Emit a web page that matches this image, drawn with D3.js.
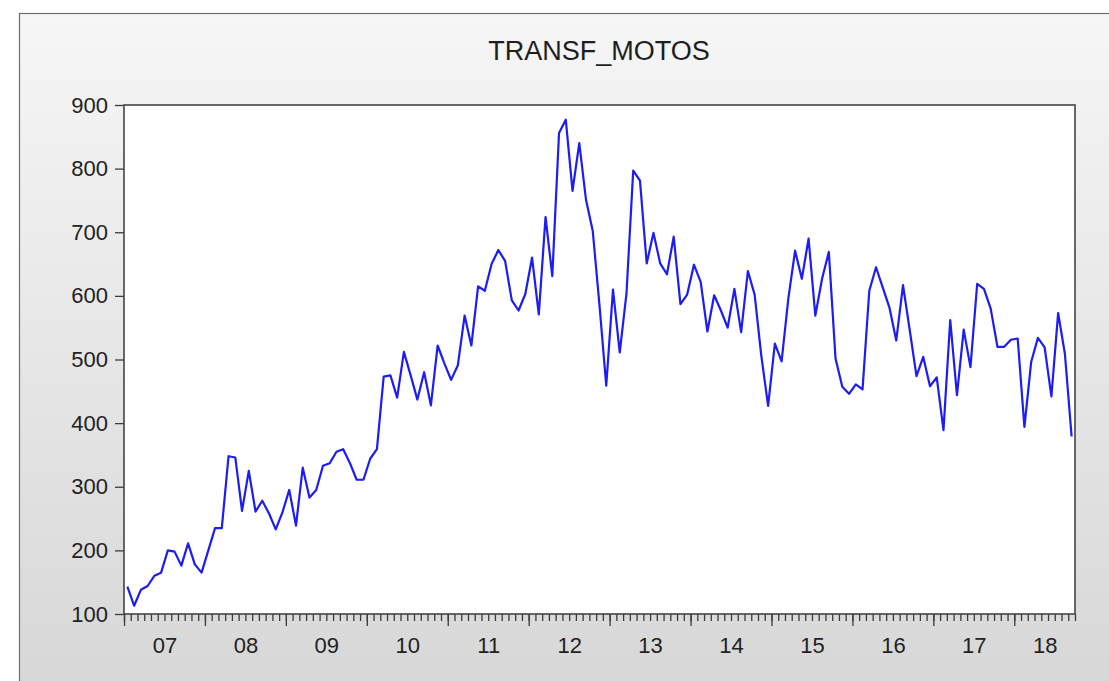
<!DOCTYPE html>
<html>
<head>
<meta charset="utf-8">
<script src="https://cdn.jsdelivr.net/npm/d3@7"></script>
<style>
  html, body { margin: 0; padding: 0; background: #ffffff; }
  svg { display: block; }
  text { font-family: "Liberation Sans", Arial, sans-serif; }
</style>
</head>
<body>
<svg id="chart" width="1109" height="681"></svg>
<script>
// Monthly series, January 2007 to September 2018
const seriesName = "TRANSF_MOTOS";
const yearLabels = ["07", "08", "09", "10", "11", "12", "13", "14", "15", "16", "17", "18"];
const v2007 = [143, 113, 138, 144, 160, 165, 200, 198, 176, 211, 178, 165];
const v2008 = [200, 235, 235, 348, 346, 262, 325, 261, 278, 258, 233, 260];
const v2009 = [295, 239, 330, 283, 295, 333, 337, 355, 359, 337, 311, 311];
const v2010 = [344, 359, 473, 475, 440, 512, 475, 437, 480, 428, 522, 494];
const v2011 = [468, 491, 569, 522, 615, 608, 650, 672, 655, 593, 577, 603];
const v2012 = [660, 571, 724, 631, 856, 877, 765, 840, 751, 702, 585, 459];
const v2013 = [610, 511, 604, 797, 781, 651, 699, 651, 634, 693, 587, 602];
const v2014 = [649, 622, 544, 601, 577, 550, 611, 543, 639, 602, 505, 427];
const v2015 = [525, 497, 596, 671, 627, 690, 569, 627, 669, 501, 457, 446];
const v2016 = [461, 453, 608, 645, 613, 581, 530, 617, 546, 474, 504, 458];
const v2017 = [472, 389, 562, 444, 547, 488, 619, 611, 580, 520, 520, 531];
const v2018 = [533, 394, 496, 534, 519, 442, 573, 509, 379];
const yTicks = [100, 200, 300, 400, 500, 600, 700, 800, 900];

const values = [].concat(v2007, v2008, v2009, v2010, v2011, v2012,
                         v2013, v2014, v2015, v2016, v2017, v2018);
const n = values.length;

const W = 1109, H = 681;
const plot = { left: 124, right: 1075, top: 105, bottom: 614 };

const svg = d3.select("#chart");

// Window background: light grey vertical gradient inside a thin frame
const defs = svg.append("defs");
const grad = defs.append("linearGradient")
  .attr("id", "bg").attr("x1", 0).attr("y1", 0).attr("x2", 0).attr("y2", 1);
grad.append("stop").attr("offset", "0%").attr("stop-color", "#f6f6f6");
grad.append("stop").attr("offset", "100%").attr("stop-color", "#d7d7d7");

svg.append("rect")
  .attr("x", 19.5).attr("y", 13.5)
  .attr("width", W).attr("height", H)
  .attr("fill", "url(#bg)")
  .attr("stroke", "#6e6e6e").attr("stroke-width", 1.2);

// Plot area
svg.append("rect")
  .attr("x", plot.left).attr("y", plot.top)
  .attr("width", plot.right - plot.left).attr("height", plot.bottom - plot.top)
  .attr("fill", "#ffffff");

const x = d3.scaleLinear().domain([0, n]).range([plot.left, plot.right]);
const y = d3.scaleLinear().domain([100, 900]).range([plot.bottom, plot.top]);

// Title
svg.append("text")
  .attr("x", 599).attr("y", 60)
  .attr("text-anchor", "middle")
  .attr("font-size", 27)
  .attr("fill", "#1e1e1e")
  .text(seriesName);

const axisColor = "#3a3a3a";
function styleAxis(g) {
  g.select(".domain").remove();
  g.selectAll(".tick line").attr("stroke", axisColor).attr("stroke-width", 1.3);
  g.selectAll(".tick text").attr("fill", "#222").attr("font-size", 22)
    .attr("font-family", "\"Liberation Sans\", Arial, sans-serif");
}

// Monthly minor ticks
svg.append("g")
  .attr("transform", `translate(0,${plot.bottom})`)
  .call(d3.axisBottom(x).tickValues(d3.range(0, n + 1)).tickSize(7).tickFormat(""))
  .call(styleAxis);

// Year boundary ticks
svg.append("g")
  .attr("transform", `translate(0,${plot.bottom})`)
  .call(d3.axisBottom(x).tickValues(d3.range(0, n + 1, 12)).tickSize(12).tickFormat(""))
  .call(styleAxis);

// Year labels, centred on the visible part of each year
const yearCentres = yearLabels.map((_, k) => (k * 12 + Math.min(k * 12 + 12, n)) / 2);
svg.append("g")
  .attr("transform", `translate(0,${plot.bottom})`)
  .call(d3.axisBottom(x).tickValues(yearCentres).tickSize(0).tickPadding(23)
    .tickFormat((d, i) => yearLabels[i]))
  .call(styleAxis);

// Value axis
svg.append("g")
  .attr("transform", `translate(${plot.left},0)`)
  .call(d3.axisLeft(y).tickValues(yTicks).tickSize(9).tickPadding(7))
  .call(styleAxis);

// Plot frame
svg.append("rect")
  .attr("x", plot.left).attr("y", plot.top)
  .attr("width", plot.right - plot.left).attr("height", plot.bottom - plot.top)
  .attr("fill", "none")
  .attr("stroke", "#444").attr("stroke-width", 1.6);

// Series line, one point per month at the month centre
const line = d3.line()
  .x((d, i) => x(i + 0.5))
  .y(d => y(d));

svg.append("path")
  .datum(values)
  .attr("d", line)
  .attr("fill", "none")
  .attr("stroke", "#1c1cf5")
  .attr("stroke-width", 2.2)
  .attr("stroke-linejoin", "round");
</script>
</body>
</html>
